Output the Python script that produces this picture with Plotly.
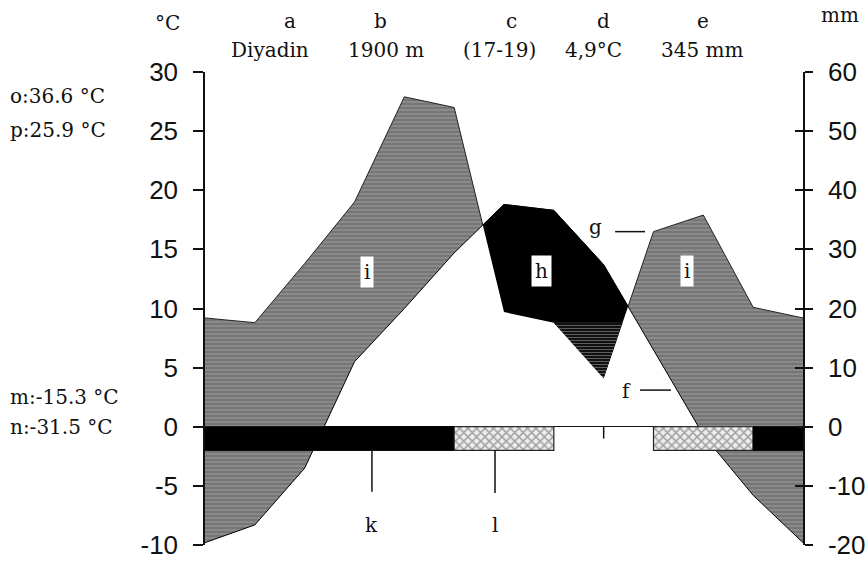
import numpy as np
import plotly.graph_objects as go

# Walter-Lieth climate diagram, Diyadin station
months = ["Jan", "Feb", "Mar", "Apr", "May", "Jun",
          "Jul", "Aug", "Sep", "Oct", "Nov", "Dec"]
temp_c = [-9.8, -8.3, -3.5, 5.5, 10.0, 14.7, 18.8, 18.3, 13.7, 6.5, -0.7, -5.8]
precip_mm = [18.4, 17.6, 27.6, 38.0, 55.8, 54.0, 19.4, 17.6, 8.2, 33.0, 35.8, 20.2]
# frost: "certain" = black bar, "probable" = hatched bar, "" = frost free
frost = ["certain"] * 5 + ["probable"] * 2 + [""] * 2 + ["probable"] * 2 + ["certain"]

MM_PER_DEG = 2.0          # 10 °C = 20 mm
DRY_LIMIT = 8.8           # °C-equivalent level below which the dry season is striped

header_keys = ["a", "b", "c", "d", "e"]
header_vals = ["Diyadin", "1900 m", "(17-19)", "4,9°C", "345 mm"]
extremes_top = ["o:36.6 °C", "p:25.9 °C"]
extremes_bottom = ["m:-15.3 °C", "n:-31.5 °C"]

temp_ticks = [-10, -5, 0, 5, 10, 15, 20, 25, 30]
precip_ticks = [-20, -10, 0, 10, 20, 30, 40, 50, 60]

SERIF = "DejaVu Serif"
SANS = "Liberation Sans"

# curves closed over the year (January repeated at the end)
x = np.arange(13, dtype=float)
t = np.array(temp_c + temp_c[:1])
p = np.array(precip_mm + precip_mm[:1]) / MM_PER_DEG


def crossings(f):
    out = []
    for i in range(len(f) - 1):
        if f[i] * f[i + 1] < 0:
            out.append(x[i] + f[i] / (f[i] - f[i + 1]))
    return out


xr = np.unique(np.concatenate([x, crossings(t - p), crossings(p - DRY_LIMIT)]))
tr = np.interp(xr, x, t)
pr = np.interp(xr, x, p)

humid_pattern = dict(shape="-", bgcolor="#767676", fgcolor="#c8c8c8", size=4, solidity=0.25)
dry_pattern = dict(shape="-", bgcolor="#111111", fgcolor="#bdbdbd", size=3, solidity=0.3)
hatch_pattern = dict(shape="x", bgcolor="#eeeeee", fgcolor="#555555", size=6, solidity=0.45)

fig = go.Figure()
skip = dict(showlegend=False, hoverinfo="skip")

# humid period: precipitation above temperature
fig.add_trace(go.Scatter(x=xr, y=tr, mode="lines", line=dict(width=0), **skip))
fig.add_trace(go.Scatter(x=xr, y=np.maximum(pr, tr), mode="lines", fill="tonexty",
                         fillcolor="#767676", fillpattern=humid_pattern,
                         line=dict(color="#222222", width=1), **skip))
# arid period: temperature above precipitation
fig.add_trace(go.Scatter(x=xr, y=np.minimum(pr, tr), mode="lines", line=dict(width=0), **skip))
fig.add_trace(go.Scatter(x=xr, y=tr, mode="lines", fill="tonexty", fillcolor="#000000",
                         line=dict(color="#000000", width=1), **skip))
# driest part of the arid period
fig.add_trace(go.Scatter(x=xr, y=pr, mode="lines", line=dict(width=0), **skip))
fig.add_trace(go.Scatter(x=xr, y=np.maximum(pr, np.minimum(DRY_LIMIT, tr)), mode="lines",
                         fill="tonexty", fillcolor="#111111", fillpattern=dry_pattern,
                         line=dict(width=0), **skip))

# frost bars below the zero line, one block per run of equal months
FROST_DEPTH = 2.0
runs = []
for i, f in enumerate(frost):
    if runs and runs[-1][0] == f and runs[-1][2] == i:
        runs[-1][2] = i + 1
    else:
        runs.append([f, i, i + 1])
for kind, a, b in runs:
    if not kind:
        continue
    bx = [a, b, b, a, a]
    by = [0, 0, -FROST_DEPTH, -FROST_DEPTH, 0]
    if kind == "certain":
        fig.add_trace(go.Scatter(x=bx, y=by, mode="lines", fill="toself",
                                 fillcolor="#000000", line=dict(color="#000000", width=1),
                                 **skip))
    else:
        fig.add_trace(go.Scatter(x=bx, y=by, mode="lines", fill="toself",
                                 fillcolor="#eeeeee", fillpattern=hatch_pattern,
                                 line=dict(color="#222222", width=1.2), **skip))

# precipitation scale (mm) on the right
fig.add_trace(go.Scatter(x=x, y=np.array(precip_mm + precip_mm[:1]), yaxis="y2",
                         mode="lines", line=dict(width=0), opacity=0, **skip))
fig.add_trace(go.Scatter(x=x, y=np.array(precip_mm + precip_mm[:1]), yaxis="y3",
                         mode="lines", line=dict(width=0), opacity=0, **skip))

axis_font = dict(family=SANS, size=26, color="#111111")
fig.update_layout(
    width=865, height=562,
    margin=dict(l=205, r=62, t=72, b=17),
    paper_bgcolor="white", plot_bgcolor="white",
    xaxis=dict(range=[0, 12], visible=False, automargin=False),
    yaxis=dict(range=[-10, 30], tickvals=temp_ticks, ticktext=[str(v) for v in temp_ticks],
               ticks="outside", ticklen=10, automargin=False,
               tickwidth=1.5, tickcolor="#111111", showline=True, linecolor="#111111",
               linewidth=1.5, showgrid=False, zeroline=True, zerolinecolor="#111111",
               zerolinewidth=1, tickfont=axis_font, ticklabelstandoff=10),
    yaxis2=dict(range=[-20, 60], tickvals=precip_ticks,
                ticktext=[str(v) for v in precip_ticks], overlaying="y", side="right",
                anchor="x", ticks="outside", ticklen=8, tickwidth=1.5, tickcolor="#111111",
                showline=True, linecolor="#111111", linewidth=1.5, showgrid=False,
                zeroline=False, tickfont=axis_font, ticklabelstandoff=10, automargin=False),
    yaxis3=dict(range=[-20, 60], tickvals=precip_ticks, overlaying="y", side="right",
                anchor="x", ticks="inside", ticklen=8, tickwidth=1.5, tickcolor="#111111",
                showline=False, showgrid=False, zeroline=False, showticklabels=False,
                automargin=False),
)

txt = dict(family=SERIF, size=20, color="#111111")
ann = []


def paper_text(text, px, py, xanchor="center"):
    ann.append(dict(text=text, x=px, y=py, xref="paper", yref="paper", showarrow=False,
                    xanchor=xanchor, yanchor="middle", font=txt))


# header: station, altitude, observation years, mean temperature, annual precipitation
key_x = [0.142, 0.294, 0.512, 0.667, 0.833]
val_x = [0.109, 0.303, 0.492, 0.649, 0.831]
for k, v, kx, vx in zip(header_keys, header_vals, key_x, val_x):
    paper_text(k, kx, 1.108)
    paper_text(v, vx, 1.047)
paper_text("°C", -0.062, 1.104)
paper_text("mm", 1.062, 1.12)

# absolute and mean extremes
for label, py in zip(extremes_top, [0.949, 0.877]):
    paper_text(label, -0.33, py, xanchor="left")
for label, py in zip(extremes_bottom, [0.313, 0.249]):
    paper_text(label, -0.33, py, xanchor="left")

# boxed region labels
for label, bx, by in [("i", 3.25, 13.1), ("h", 6.75, 13.2), ("i", 9.68, 13.2)]:
    ann.append(dict(text=label, x=bx, y=by, xref="x", yref="y", showarrow=False,
                    bgcolor="white", borderpad=3, font=txt))

# pointer labels
for label, lx, ly in [("g", 7.83, 16.9), ("f", 8.45, 3.0), ("k", 3.35, -8.3), ("l", 5.82, -8.3)]:
    ann.append(dict(text=label, x=lx, y=ly, xref="x", yref="y", showarrow=False, font=txt))
fig.update_layout(annotations=ann)

shapes = [
    dict(type="line", x0=8.23, x1=8.83, y0=16.5, y1=16.5),   # g -> precipitation curve
    dict(type="line", x0=8.73, x1=9.35, y0=3.1, y1=3.1),     # f -> temperature curve
    dict(type="line", x0=3.35, x1=3.35, y0=-2.0, y1=-5.5),   # k -> certain frost
    dict(type="line", x0=5.82, x1=5.82, y0=-2.0, y1=-5.6),   # l -> probable frost
    dict(type="line", x0=8.0, x1=8.0, y0=0, y1=-1.0),
]
for s in shapes:
    s.update(xref="x", yref="y", line=dict(color="#111111", width=1.5))
fig.update_layout(shapes=shapes)

fig.write_html("out.html")
